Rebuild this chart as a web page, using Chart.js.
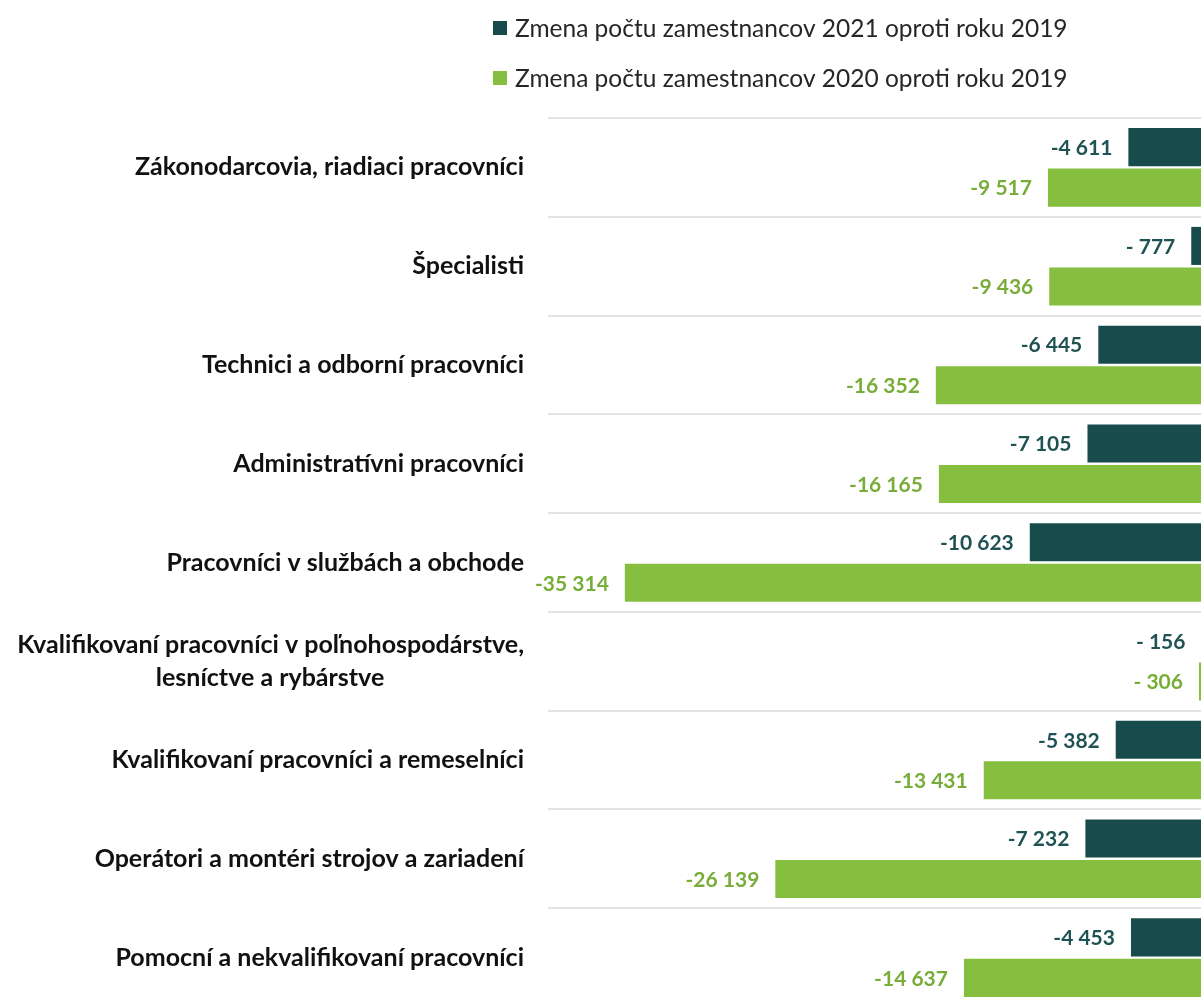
<!DOCTYPE html>
<html>
<head>
<meta charset="utf-8">
<script src="https://cdn.jsdelivr.net/npm/chart.js@4.4.1/dist/chart.umd.min.js"></script>
<style>
  html, body { margin: 0; padding: 0; background: #fff; overflow: hidden; }
  .wrap { position: relative; width: 1204px; height: 1057px; }
</style>
</head>
<body>
<div class="wrap"><canvas id="chart"></canvas></div>
<script>
const categories = [
  'Zákonodarcovia, riadiaci pracovníci',
  'Špecialisti',
  'Technici a odborní pracovníci',
  'Administratívni pracovníci',
  'Pracovníci v službách a obchode',
  ['Kvalifikovaní pracovníci v poľnohospodárstve,', 'lesníctve a rybárstve'],
  'Kvalifikovaní pracovníci a remeselníci',
  'Operátori a montéri strojov a zariadení',
  'Pomocní a nekvalifikovaní pracovníci'
]
const change2021 = [-4611, -777, -6445, -7105, -10623, -156, -5382, -7232, -4453]
const change2020 = [-9517, -9436, -16352, -16165, -35314, -306, -13431, -26139, -14637]
const seriesLabels = ['Zmena počtu zamestnancov 2021 oproti roku 2019', 'Zmena počtu zamestnancov 2020 oproti roku 2019']

const darkGreen = '#184b4b'
const lightGreen = '#86be40'
const tickFont = 'bold 25px Lato'

// excel style "# ##0" with a minus sign
function fmt(v) {
  const a = Math.abs(v)
  if (a < 1000) return '- ' + a
  return '-' + Math.floor(a / 1000) + ' ' + String(a % 1000).padStart(3, '0')
}

// excel centres wrapped category labels, pad shorter lines so they sit centred
const measureCtx = document.createElement('canvas').getContext('2d')
function centerLines(label) {
  if (!Array.isArray(label)) return label
  measureCtx.font = tickFont
  const widths = label.map(l => measureCtx.measureText(l).width)
  const widest = Math.max(...widths)
  const sp = measureCtx.measureText(' ').width
  return label.map((l, i) => l + ' '.repeat(Math.round((widest - widths[i]) / 2 / sp)))
}

const barLabels = {
  id: 'barLabels',
  afterDatasetsDraw(chart) {
    const ctx = chart.ctx
    chart.data.datasets.forEach((ds, i) => {
      const meta = chart.getDatasetMeta(i)
      meta.data.forEach((bar, j) => {
        ctx.save()
        ctx.font = 'bold 21px Lato'
        ctx.fillStyle = ds.labelColor
        ctx.textAlign = 'right'
        ctx.textBaseline = 'middle'
        ctx.fillText(fmt(ds.data[j]), bar.x - 16, bar.y + 1)
        ctx.restore()
      })
    })
  }
}

const legendBoxes = {
  id: 'legendBoxes',
  afterDraw(chart) {
    const ctx = chart.ctx
    chart.data.datasets.forEach((ds, i) => {
      const y = 28 + i * 50
      ctx.save()
      ctx.fillStyle = ds.backgroundColor
      ctx.fillRect(493, y - 7, 14, 14)
      ctx.font = '24.5px Lato'
      ctx.fillStyle = '#262626'
      ctx.textAlign = 'left'
      ctx.textBaseline = 'middle'
      ctx.fillText(ds.label, 515, y + 1)
      ctx.restore()
    })
  }
}

new Chart(document.getElementById('chart').getContext('2d'), {
  type: 'bar',
  data: {
    labels: categories,
    datasets: [
      { label: seriesLabels[0], data: change2021, backgroundColor: darkGreen, labelColor: '#1f5252',
        categoryPercentage: 0.82, barPercentage: 0.94 },
      { label: seriesLabels[1], data: change2020, backgroundColor: lightGreen, labelColor: '#77ad38',
        categoryPercentage: 0.82, barPercentage: 0.94 }
    ]
  },
  options: {
    indexAxis: 'y',
    responsive: true,
    maintainAspectRatio: false,
    animation: false,
    layout: { padding: { top: 118, bottom: 50, left: 0, right: 0 } },
    plugins: { legend: { display: false }, tooltip: { enabled: false } },
    scales: {
      x: { display: false, min: -40000, max: 0 },
      y: {
        grid: { color: '#e3e3e3', lineWidth: 2, drawTicks: false },
        border: { display: false },
        ticks: {
          color: '#111',
          padding: 24,
          font: { family: 'Lato', weight: 'bold', size: 25, lineHeight: 1.32 },
          callback(value) { return centerLines(this.getLabelForValue(value)) }
        },
        afterFit(scale) { scale.width = 548 }
      }
    }
  },
  plugins: [barLabels, legendBoxes]
})
</script>
</body>
</html>
